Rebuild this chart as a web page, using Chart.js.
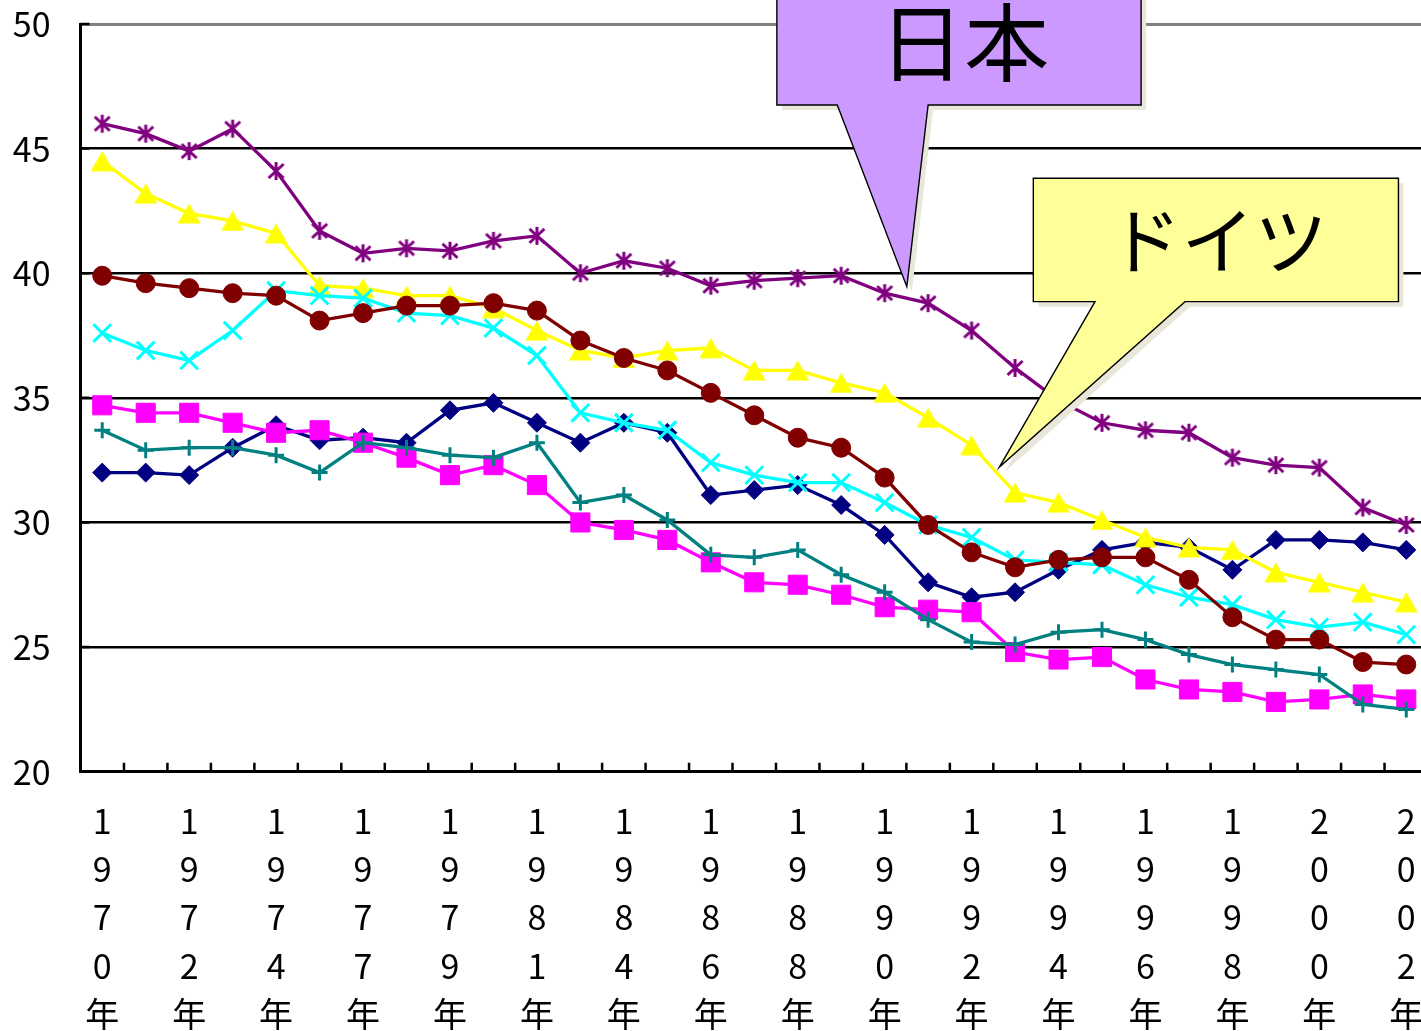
<!DOCTYPE html>
<html lang="ja">
<head>
<meta charset="utf-8">
<title>推移</title>
<script src="https://cdn.jsdelivr.net/npm/chart.js@4.4.1/dist/chart.umd.min.js"></script>
<style>
  html, body { margin: 0; padding: 0; background: #fff; overflow: hidden; }
  #wrap { width: 1428px; height: 1031px; }
</style>
</head>
<body>
<div id="wrap"><canvas id="chart" width="1428" height="1031"></canvas></div>
<script>
// Years on the category axis (two years are absent from the series)
const years = [1970, 1971, 1972, 1973, 1974, 1975, 1977, 1978, 1979, 1980,
               1981, 1982, 1984, 1985, 1986, 1987, 1988, 1989, 1990, 1991,
               1992, 1993, 1994, 1995, 1996, 1997, 1998, 1999, 2000, 2001, 2002];
const categories = years.map(y => y + '年');

// Series values
const series1 = [32.0, 32.0, 31.9, 33.0, 33.9, 33.3, 33.4, 33.2, 34.5, 34.8, 34.0, 33.2, 34.0, 33.6, 31.1, 31.3,
                 31.5, 30.7, 29.5, 27.6, 27.0, 27.2, 28.1, 28.9, 29.2, 29.0, 28.1, 29.3, 29.3, 29.2, 28.9];
const series2 = [34.7, 34.4, 34.4, 34.0, 33.6, 33.7, 33.2, 32.6, 31.9, 32.3, 31.5, 30.0, 29.7, 29.3, 28.4, 27.6,
                 27.5, 27.1, 26.6, 26.5, 26.4, 24.8, 24.5, 24.6, 23.7, 23.3, 23.2, 22.8, 22.9, 23.1, 22.9];
const germany = [44.5, 43.2, 42.4, 42.1, 41.6, 39.5, 39.4, 39.1, 39.1, 38.6, 37.7, 36.9, 36.6, 36.9, 37.0, 36.1,
                 36.1, 35.6, 35.2, 34.2, 33.1, 31.2, 30.8, 30.1, 29.4, 29.0, 28.9, 28.0, 27.6, 27.2, 26.8];
const series4 = [37.6, 36.9, 36.5, 37.7, 39.3, 39.1, 39.0, 38.4, 38.3, 37.8, 36.7, 34.4, 34.0, 33.7, 32.4, 31.9,
                 31.6, 31.6, 30.8, 29.9, 29.4, 28.5, 28.4, 28.3, 27.5, 27.0, 26.7, 26.1, 25.8, 26.0, 25.5];
const japan   = [46.0, 45.6, 44.9, 45.8, 44.1, 41.7, 40.8, 41.0, 40.9, 41.3, 41.5, 40.0, 40.5, 40.2, 39.5, 39.7,
                 39.8, 39.9, 39.2, 38.8, 37.7, 36.2, 34.9, 34.0, 33.7, 33.6, 32.6, 32.3, 32.2, 30.6, 29.9];
const series6 = [39.9, 39.6, 39.4, 39.2, 39.1, 38.1, 38.4, 38.7, 38.7, 38.8, 38.5, 37.3, 36.6, 36.1, 35.2, 34.3,
                 33.4, 33.0, 31.8, 29.9, 28.8, 28.2, 28.5, 28.6, 28.6, 27.7, 26.2, 25.3, 25.3, 24.4, 24.3];
const series7 = [33.7, 32.9, 33.0, 33.0, 32.7, 32.0, 33.2, 33.0, 32.7, 32.6, 33.2, 30.8, 31.1, 30.1, 28.7, 28.6,
                 28.9, 27.9, 27.2, 26.1, 25.2, 25.1, 25.6, 25.7, 25.3, 24.7, 24.3, 24.1, 23.9, 22.7, 22.5];

// Value axis
const yMin = 20, yMax = 50, yStep = 5;

const FONT = '"Noto Sans CJK JP", "Noto Sans", sans-serif';

// Marker images: a triangle centred on its box, and an asterisk-style star
function triangleMarker(color) {
  const c = document.createElement('canvas');
  c.width = 24; c.height = 21;
  const g = c.getContext('2d');
  g.fillStyle = color;
  g.beginPath();
  g.moveTo(12, 0.5); g.lineTo(23.5, 20.5); g.lineTo(0.5, 20.5); g.closePath();
  g.fill();
  return c;
}
function starMarker(color) {
  const c = document.createElement('canvas');
  c.width = 20; c.height = 20;
  const g = c.getContext('2d');
  g.strokeStyle = color; g.lineWidth = 3; g.lineCap = 'butt';
  g.beginPath();
  g.moveTo(10, 1); g.lineTo(10, 19);
  g.moveTo(2.5, 3); g.lineTo(17.5, 17);
  g.moveTo(17.5, 3); g.lineTo(2.5, 17);
  g.stroke();
  return c;
}

// Speech-bubble labels, placed in axis units (category index, value)
const callouts = [
  { text: '日本', fill: '#CC99FF', font: '85px ' + FONT,
    left: 15.52, right: 23.90, top: 52.0, bottom: 46.75,
    base: [16.91, 19.00], tip: [18.51, 39.46], textAt: [19.83, 49.24] },
  { text: 'ドイツ', fill: '#FFFF99', font: '73px ' + FONT,
    left: 21.42, right: 29.82, top: 43.81, bottom: 38.86,
    base: [22.84, 24.91], tip: [20.64, 32.22], textAt: [25.67, 41.34] }
];

const innerTicks = {
  id: 'innerTicks',
  afterDatasetsDraw(chart) {
    const { ctx, chartArea: a, scales: { x, y } } = chart;
    ctx.save();
    ctx.strokeStyle = '#000';
    ctx.lineWidth = 2.5;
    ctx.beginPath();
    for (let i = 1; i < categories.length; i++) {
      const px = (x.getPixelForValue(i - 1) + x.getPixelForValue(i)) / 2;
      ctx.moveTo(px, a.bottom); ctx.lineTo(px, a.bottom - 9);
    }
    for (let v = yMin + yStep; v <= yMax; v += yStep) {
      const py = y.getPixelForValue(v);
      ctx.moveTo(a.left, py); ctx.lineTo(a.left + 9, py);
    }
    ctx.stroke();
    ctx.restore();
  }
};

const bubbles = {
  id: 'bubbles',
  afterDraw(chart) {
    const { ctx, scales: { x, y } } = chart;
    callouts.forEach(c => {
      const L = x.getPixelForValue(c.left), R = x.getPixelForValue(c.right);
      const T = y.getPixelForValue(c.top), B = y.getPixelForValue(c.bottom);
      const b1 = x.getPixelForValue(c.base[0]), b2 = x.getPixelForValue(c.base[1]);
      const tx = x.getPixelForValue(c.tip[0]), ty = y.getPixelForValue(c.tip[1]);
      const outline = (dx, dy) => {
        ctx.beginPath();
        ctx.moveTo(L + dx, T + dy);
        ctx.lineTo(R + dx, T + dy);
        ctx.lineTo(R + dx, B + dy);
        ctx.lineTo(b2 + dx, B + dy);
        ctx.lineTo(tx + dx, ty + dy);
        ctx.lineTo(b1 + dx, B + dy);
        ctx.lineTo(L + dx, B + dy);
        ctx.closePath();
      };
      ctx.save();
      outline(5, 5);
      ctx.fillStyle = '#E9E6DA';
      ctx.fill();
      outline(0, 0);
      ctx.fillStyle = c.fill;
      ctx.fill();
      ctx.lineWidth = 1.4;
      ctx.strokeStyle = '#000';
      ctx.lineJoin = 'miter';
      ctx.stroke();
      ctx.fillStyle = '#000';
      ctx.font = c.font;
      ctx.textAlign = 'center';
      ctx.textBaseline = 'middle';
      ctx.fillText(c.text, x.getPixelForValue(c.textAt[0]), y.getPixelForValue(c.textAt[1]));
      ctx.restore();
    });
  }
};

function line(label, data, color, extra, order) {
  return Object.assign({
    label, data, order,
    borderColor: color,
    backgroundColor: color,
    borderWidth: 3.3,
    tension: 0,
    pointBorderColor: color,
    pointBackgroundColor: color,
    pointBorderWidth: 1,
    pointHoverRadius: 0
  }, extra);
}

new Chart(document.getElementById('chart'), {
  type: 'line',
  data: {
    labels: categories,
    datasets: [
      line('系列1', series1, '#000080', { pointStyle: 'rectRot', pointRadius: 9.5 }, 6),
      line('系列2', series2, '#FF00FF', { pointStyle: 'rect', pointRadius: 13.5 }, 5),
      line('ドイツ', germany, '#FFFF00', { pointStyle: triangleMarker('#FFFF00'), pointRadius: 10 }, 4),
      line('系列4', series4, '#00FFFF', { pointStyle: 'crossRot', pointRadius: 12.5, pointBorderWidth: 3 }, 3),
      line('日本', japan, '#800080', { pointStyle: starMarker('#800080'), pointRadius: 10 }, 2),
      line('系列6', series6, '#800000', { pointStyle: 'circle', pointRadius: 9.5 }, 1),
      line('系列7', series7, '#008080', { pointStyle: 'cross', pointRadius: 8, pointBorderWidth: 3 }, 0)
    ]
  },
  options: {
    responsive: false,
    animation: false,
    devicePixelRatio: 1,
    layout: { autoPadding: false, padding: { top: 24, right: 0, bottom: 0, left: 0 } },
    plugins: { legend: { display: false }, tooltip: { enabled: false } },
    events: [],
    scales: {
      x: {
        type: 'category',
        offset: true,
        afterFit(scale) { scale.height = 259.3; },
        // the label gap comes from an invisible tick length
        grid: { display: true, drawOnChartArea: false, drawTicks: true, tickLength: 25, tickColor: 'rgba(0,0,0,0)' },
        border: { display: true, color: '#000', width: 3 },
        ticks: {
          autoSkip: false,
          maxRotation: 0,
          minRotation: 0,
          padding: 0,
          color: '#000',
          font: { family: FONT, size: 34, lineHeight: 1.42 },
          callback(value, index) {
            return index % 2 === 0 ? categories[index].split('') : '';
          }
        }
      },
      y: {
        min: yMin,
        max: yMax,
        afterFit(scale) { scale.width = 80.5; },
        grid: {
          drawTicks: true,
          tickLength: 30,
          tickColor: 'rgba(0,0,0,0)',
          color: ctx => ctx.tick && ctx.tick.value === yMax ? '#808080' : '#000',
          lineWidth: ctx => ctx.tick && ctx.tick.value === yMax ? 3 : 2.5
        },
        border: { display: true, color: '#000', width: 3 },
        ticks: {
          stepSize: yStep,
          padding: 0,
          color: '#000',
          font: { family: FONT, size: 34 }
        }
      }
    }
  },
  plugins: [innerTicks, bubbles]
});
</script>
</body>
</html>
